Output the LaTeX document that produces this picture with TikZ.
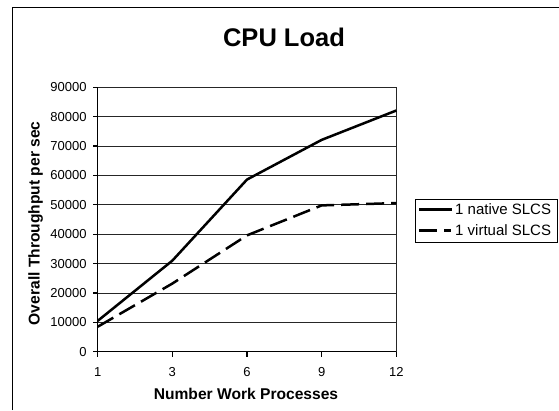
\documentclass[tikz,border=0pt]{standalone}
\usepackage{fontspec}
\setmainfont{Liberation Sans}
\begin{document}
\begin{tikzpicture}[x=1pt,y=-1pt,
  gridline/.style={black!85, line width=0.9pt},
  axisline/.style={black, line width=1.3pt},
  series/.style={black, line width=2.5pt, line join=round},
  dashseries/.style={series, dash pattern=on 18pt off 7pt},
  ticklab/.style={font=\fontsize{13}{15}\selectfont, inner sep=0pt},
  axislab/.style={font=\bfseries\fontsize{15.6}{18}\selectfont, inner sep=0pt},
  legtext/.style={font=\fontsize{15}{17}\selectfont, inner sep=0pt, anchor=base west}]
\useasboundingbox (0,0) rectangle (559,410);
\fill[white] (0,0) rectangle (559,410);
% outer chart frame (cut off at right and bottom)
\coordinate (fbl) at (12,410);
\coordinate (ftl) at (12,7);
\coordinate (ftr) at (559,7);
\draw[line width=1pt] (fbl) -- (ftl) -- (ftr);
% title
\node[font=\bfseries\fontsize{25.5}{29}\selectfont, anchor=base, inner sep=0pt] (title) at (284,46.7) {CPU Load};
% plot
\begin{scope}[shift={(97.7,351.7)}, x=74.65pt, y=2.9378pt]
  \coordinate (o) at (0,0);
  \coordinate (ytop) at (0,90);
  \coordinate (xend) at (4,0);
  \coordinate (tr) at (4,90);
  \foreach \v in {10,20,...,80}
    \draw[gridline] (0,\v) -- (4,\v);
  \draw[gridline] (ytop) -- (tr) -- (xend);
  \draw[axisline] (ytop) -- (o) -- (xend);
  \foreach \v/\t in {0/0,10/10000,20/20000,30/30000,40/40000,50/50000,60/60000,70/70000,80/80000,90/90000} {
    \draw[axisline] (0,\v) -- ++(-5pt,0pt);
    \node[ticklab, anchor=east] (ylab\v) at ([xshift=-11pt]0,\v) {\t};
  }
  \foreach \i/\t in {0/1,1/3,2/6,3/9,4/12} {
    \draw[axisline] (\i,0) -- ++(0pt,-5pt);
    \node[ticklab] (xlab\i) at ([yshift=-20pt]\i,0) {\t};
  }
  % native SLCS
  \coordinate (n1) at (0,10.5);
  \coordinate (n2) at (1,31);
  \coordinate (n3) at (2,58.6);
  \coordinate (n4) at (3,72.1);
  \coordinate (n5) at (4,82.1);
  \draw[series] (n1) -- (n2) -- (n3) -- (n4) -- (n5);
  % virtual SLCS
  \coordinate (v1) at (0,8.5);
  \coordinate (v2) at (1,23.2);
  \coordinate (v3) at (2,39.6);
  \coordinate (v4) at (3,49.8);
  \coordinate (v5) at (4,50.6);
  \draw[dashseries] (v1) -- (v2) -- (v3) -- (v4) -- (v5);
\end{scope}
% axis titles
\node[axislab, anchor=base] (xtitle) at (246,399) {Number Work Processes};
\node[axislab, anchor=base, rotate=90] (ytitle) at (39.5,223.3) {Overall Throughput per sec};
% legend
\node[draw, line width=1pt, anchor=north west, minimum width=142pt, minimum height=42.7pt, inner sep=0pt] (legend) at (415,199) {};
\coordinate (l1a) at (419,209.3);
\coordinate (l1b) at (452,209.3);
\coordinate (l2a) at (419,230.7);
\coordinate (l2b) at (451,230.7);
\draw[series] (l1a) -- (l1b);
\draw[dashseries] (l2a) -- (l2b);
\node[legtext] (leg1) at (455,214.3) {1 native SLCS};
\node[legtext] (leg2) at (455,235.7) {1 virtual SLCS};
\end{tikzpicture}
\end{document}
